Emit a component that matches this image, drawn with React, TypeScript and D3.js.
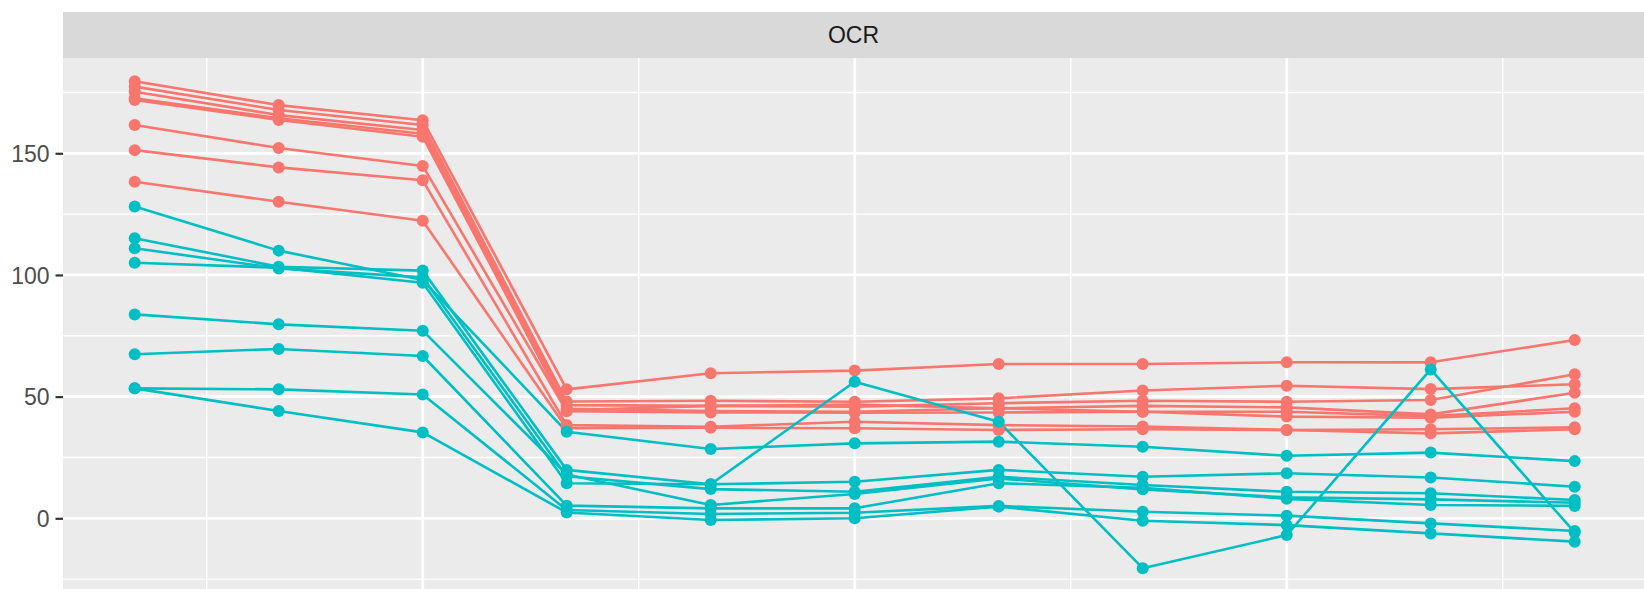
import React, { useEffect, useRef } from "react";
import * as d3 from "d3";

// time points 1..11
const timepoints = [1, 2, 3, 4, 5, 6, 7, 8, 9, 10, 11];

// red group
const redSeries = [
  [179.6, 169.8, 163.6, 53.0, 59.6, 60.7, 63.4, 63.4, 64.1, 64.1, 73.3],
  [177.4, 167.8, 161.6, 48.0, 48.3, 47.9, 49.3, 52.5, 54.5, 53.1, 55.1],
  [175.3, 165.7, 159.6, 46.5, 46.2, 45.9, 47.3, 48.3, 47.9, 48.6, 59.2],
  [171.9, 163.7, 156.8, 45.0, 44.1, 43.8, 45.2, 46.2, 45.6, 42.7, 51.6],
  [172.6, 164.4, 158.0, 44.4, 46.2, 46.7, 45.2, 43.8, 41.8, 41.3, 43.8],
  [161.6, 152.2, 144.8, 44.0, 43.5, 43.4, 43.5, 43.8, 43.8, 42.0, 45.2],
  [151.3, 144.2, 138.9, 38.3, 37.6, 39.7, 38.3, 37.7, 36.3, 36.6, 37.4],
  [138.3, 130.1, 122.3, 37.0, 37.2, 37.0, 36.3, 36.6, 36.3, 34.9, 36.6],
];

// cyan group
const cyanSeries = [
  [128.1, 110.0, 97.9, 35.6, 28.5, 30.8, 31.5, 29.4, 25.7, 27.0, 23.5],
  [115.1, 103.4, 101.8, 19.9, 14.0, 15.0, 19.9, 17.1, 18.5, 16.8, 13.0],
  [111.0, 102.7, 99.0, 17.3, 12.0, 10.9, 17.1, 13.7, 10.9, 10.3, 7.5],
  [105.0, 103.0, 96.8, 14.4, 14.0, 56.1, 39.7, -20.5, -6.9, 61.2, -5.8],
  [83.8, 79.7, 77.1, 18.0, 5.5, 10.0, 16.4, 11.9, 8.6, 7.8, 6.4],
  [67.4, 69.6, 66.7, 5.2, 4.1, 4.1, 14.4, 12.5, 8.0, 5.5, 5.1],
  [53.4, 53.0, 50.9, 3.4, 1.8, 2.3, 5.1, 2.7, 1.1, -2.1, -5.2],
  [53.4, 44.1, 35.3, 2.4, -0.7, 0.0, 4.8, -1.0, -2.8, -6.2, -9.6],
];

const groupColors = ["#F8766D", "#00BFC4"];
const yTicks = [0, 50, 100, 150];
const yMinor = [-25, 25, 75, 125, 175];
const xMajor = [3, 6, 9];
const xMinor = [1.5, 4.5, 7.5, 10.5];
const stripLabel = "OCR";

const W = 1644;
const H = 589;

export default function App() {
  const svgRef = useRef<SVGSVGElement>(null);

  useEffect(() => {
    const svg = d3.select(svgRef.current);
    svg.selectAll("*").remove();

    const panel = { left: 63, right: W, top: 58, bottom: H };
    const strip = { top: 12, bottom: 58 };

    const x = d3.scaleLinear().domain([0.5, 11.5]).range([62.7, 1646.7]);
    const y = d3.scaleLinear().domain([-29.05, 189.16]).range([589, 58]);

    const font = "'Liberation Sans', Arial, sans-serif";

    // panel background
    svg
      .append("rect")
      .attr("x", panel.left)
      .attr("y", panel.top)
      .attr("width", panel.right - panel.left)
      .attr("height", panel.bottom - panel.top)
      .attr("fill", "#EBEBEB");

    const grid = svg.append("g");
    // minor grid
    yMinor.forEach((v) => {
      grid
        .append("line")
        .attr("x1", panel.left)
        .attr("x2", panel.right)
        .attr("y1", y(v))
        .attr("y2", y(v))
        .attr("stroke", "white")
        .attr("stroke-width", 1.4);
    });
    xMinor.forEach((v) => {
      grid
        .append("line")
        .attr("x1", x(v))
        .attr("x2", x(v))
        .attr("y1", panel.top)
        .attr("y2", panel.bottom)
        .attr("stroke", "white")
        .attr("stroke-width", 1.4);
    });
    // major grid
    yTicks.forEach((v) => {
      grid
        .append("line")
        .attr("x1", panel.left)
        .attr("x2", panel.right)
        .attr("y1", y(v))
        .attr("y2", y(v))
        .attr("stroke", "white")
        .attr("stroke-width", 2.8);
    });
    xMajor.forEach((v) => {
      grid
        .append("line")
        .attr("x1", x(v))
        .attr("x2", x(v))
        .attr("y1", panel.top)
        .attr("y2", panel.bottom)
        .attr("stroke", "white")
        .attr("stroke-width", 2.8);
    });

    // facet strip
    svg
      .append("rect")
      .attr("x", panel.left)
      .attr("y", strip.top)
      .attr("width", panel.right - panel.left)
      .attr("height", strip.bottom - strip.top)
      .attr("fill", "#D9D9D9");
    svg
      .append("text")
      .attr("x", (panel.left + panel.right) / 2)
      .attr("y", (strip.top + strip.bottom) / 2)
      .attr("dy", "0.36em")
      .attr("text-anchor", "middle")
      .attr("font-family", font)
      .attr("font-size", 23)
      .attr("fill", "#1A1A1A")
      .text(stripLabel);

    // y axis
    const yAxis = svg
      .append("g")
      .attr("transform", `translate(${panel.left},0)`)
      .call(d3.axisLeft(y).tickValues(yTicks).tickSize(7.5).tickPadding(6));
    yAxis.select(".domain").remove();
    yAxis.selectAll(".tick line").attr("stroke", "#333333").attr("stroke-width", 2.2);
    yAxis
      .selectAll(".tick text")
      .attr("fill", "#4D4D4D")
      .attr("font-family", font)
      .attr("font-size", 23)
      .attr("dy", "0.36em");

    const groups = [redSeries, cyanSeries];
    const line = d3
      .line<number>()
      .x((_, i) => x(timepoints[i]))
      .y((d) => y(d));

    const lines = svg.append("g");
    groups.forEach((series, gi) => {
      series.forEach((s) => {
        lines
          .append("path")
          .attr("d", line(s))
          .attr("fill", "none")
          .attr("stroke", groupColors[gi])
          .attr("stroke-width", 2.6)
          .attr("stroke-linejoin", "round");
      });
    });

    const points = svg.append("g");
    groups.forEach((series, gi) => {
      series.forEach((s) => {
        points
          .selectAll(null)
          .data(s)
          .enter()
          .append("circle")
          .attr("cx", (_, i) => x(timepoints[i]))
          .attr("cy", (d) => y(d))
          .attr("r", 6)
          .attr("fill", groupColors[gi]);
      });
    });
  }, []);

  return (
    <svg
      ref={svgRef}
      width={W}
      height={H}
      style={{ position: "absolute", left: 0, top: 0, background: "white" }}
    />
  );
}
